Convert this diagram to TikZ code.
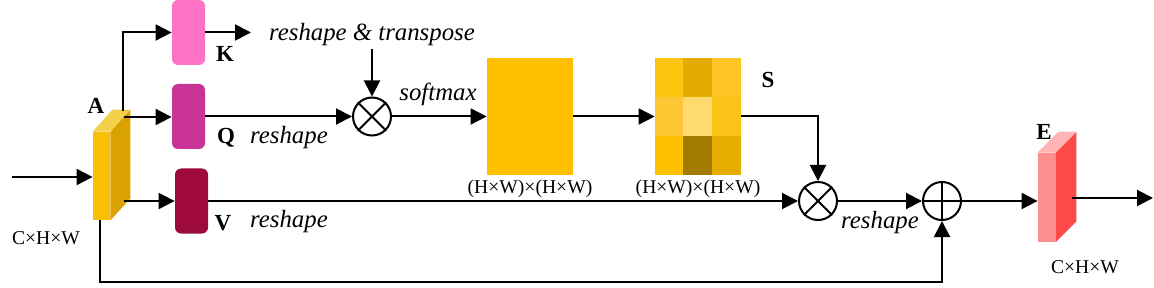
\documentclass[tikz,border=0pt]{standalone}
\usepackage{fontspec}
\setmainfont{Liberation Serif}
\usetikzlibrary{arrows.meta,calc,positioning}
\definecolor{attGold}{HTML}{FFC000}
\definecolor{aFront}{HTML}{F8BF05}
\definecolor{aSide}{HTML}{D9A200}
\definecolor{aTop}{HTML}{F3D04A}
\definecolor{eFront}{HTML}{FF8E8E}
\definecolor{eSide}{HTML}{FF4A4A}
\definecolor{eTop}{HTML}{FFB5B5}
\definecolor{kPink}{HTML}{FF73C6}
\definecolor{qMagenta}{HTML}{C93395}
\definecolor{vCrimson}{HTML}{9E0B3A}
\definecolor{sOne}{HTML}{FDC40F}
\definecolor{sTwo}{HTML}{E2AC00}
\definecolor{sThree}{HTML}{FDC523}
\definecolor{sFour}{HTML}{FDC733}
\definecolor{sFive}{HTML}{FFDA6E}
\definecolor{sSix}{HTML}{FBC318}
\definecolor{sSeven}{HTML}{FDC100}
\definecolor{sEight}{HTML}{A27A00}
\definecolor{sNine}{HTML}{E5AE00}

\begin{document}
\begin{tikzpicture}[
  x=0.5pt,y=-0.5pt,
  >={Triangle[length=8pt,width=8pt]},
  link/.style={->,line width=1pt,draw=black},
  wire/.style={line width=1pt,draw=black},
  feat/.style={rounded corners=3pt,minimum width=16.5pt,minimum height=32.5pt,inner sep=0pt},
  face/.style={rectangle,minimum width=8.5pt,minimum height=44pt,inner sep=0pt},
  op/.style={circle,draw,line width=1pt,minimum size=19pt,inner sep=0pt,fill=white},
  mapbox/.style={rectangle,minimum width=43pt,minimum height=58.5pt,inner sep=0pt},
  tag/.style={font=\fontsize{11.5}{13}\selectfont\bfseries,inner sep=0pt},
  opname/.style={font=\fontsize{12.4}{14}\selectfont\itshape,inner sep=1pt},
  dims/.style={font=\fontsize{9.8}{11}\selectfont,inner sep=0pt}
]
\useasboundingbox (0,0) rectangle (1154,288);

% Bloque de entrada A (cara frontal como nodo)
\node[face,fill=aFront] (A) at (101.5,176) {};
\fill[aSide] (A.north east) -- ++(20,-22) -- ($(A.south east)+(20,-22)$) -- (A.south east) -- cycle;
\fill[aTop] (A.north west) -- (A.north east) -- ++(20,-22) -- ($(A.north west)+(20,-22)$) -- cycle;
\node[tag] (tagA) at (96,106) {A};
\node[dims] (dimA) at (46,238) {C×H×W};

\coordinate (in) at (12,177);
\coordinate (aK) at (123,111);
\coordinate (aQ) at (124,117);
\coordinate (aV) at (124,201);
\draw[link] (in) -- (in -| A.west);

\node[feat,fill=kPink] (K) at (188.5,32.5) {};
\node[feat,fill=qMagenta] (Q) at (188.5,116.5) {};
\node[feat,fill=vCrimson] (V) at (191.5,201) {};
\node[tag] (tagK) at (225,54) {K};
\node[tag] (tagQ) at (226,138) {Q};
\node[tag] (tagV) at (223,223) {V};

\coordinate (kOut) at (251,32.5);
\draw[link] (aK) |- (K.west);
\draw[link] (K.east) -- (kOut);
\draw[link] (aQ) -- (aQ -| Q.west);
\draw[link] (aV) -- (aV -| V.west);

\node[opname] (rt) at (372,35) {reshape \& transpose};
\node[opname] (rq) at (289,138) {reshape};
\node[opname] (rv) at (289,222) {reshape};

\node[op] (m1) at (372,116.5) {};
\draw[line width=1pt] (m1.north west) -- (m1.south east) (m1.north east) -- (m1.south west);
\draw[link] (rt.south) -- (m1.north);
\draw[link] (Q.east) -- (m1.west);

\node[opname] (sm) at (438,94) {softmax};
\node[mapbox,fill=attGold] (G) at (530,116.5) {};
\node[dims] (dimG) at (530,189) {(H×W)×(H×W)};
\draw[link] (m1.east) -- (G.west);

% Mapa de atencion S en 3x3 tonos
\node[mapbox] (S) at (698,116.5) {};
\foreach \col/\row/\shade in {0/0/sOne,1/0/sTwo,2/0/sThree,0/1/sFour,1/1/sFive,2/1/sSix,0/2/sSeven,1/2/sEight,2/2/sNine}
  \fill[\shade] ($(S.north west)+(\col*28.67,\row*39)$) rectangle ++(28.67,39);
\node[tag] (tagS) at (768,80) {S};
\node[dims] (dimS) at (698,189) {(H×W)×(H×W)};
\draw[link] (G.east) -- (S.west);

\node[op] (m2) at (818,201) {};
\draw[line width=1pt] (m2.north west) -- (m2.south east) (m2.north east) -- (m2.south west);
\draw[link] (S.east) -| (m2.north);
\draw[link] (V.east) -- (m2.west);

\node[op] (add) at (942,201) {};
\draw[line width=1pt] (add.north) -- (add.south) (add.west) -- (add.east);
\draw[link] (m2.east) -- (add.west);
\node[opname] (ra) at (880,223) {reshape};

\coordinate (skip) at (100,282);
\draw[link] (A.south -| skip) -- (skip) -| (add.south);

% Bloque de salida E
\node[face,fill=eFront,minimum height=44.5pt] (E) at (1046.5,197.5) {};
\fill[eSide] (E.north east) -- ++(21,-21) -- ($(E.south east)+(21,-21)$) -- (E.south east) -- cycle;
\fill[eTop] (E.north west) -- (E.north east) -- ++(21,-21) -- ($(E.north west)+(21,-21)$) -- cycle;
\node[tag] (tagE) at (1044,132) {E};
\node[dims] (dimE) at (1085,267) {C×H×W};
\draw[link] (add.east) -- (add.east -| E.west);

\coordinate (eOut) at (1072,198);
\coordinate (out) at (1153,198);
\draw[link] (eOut) -- (out);
\end{tikzpicture}
\end{document}
